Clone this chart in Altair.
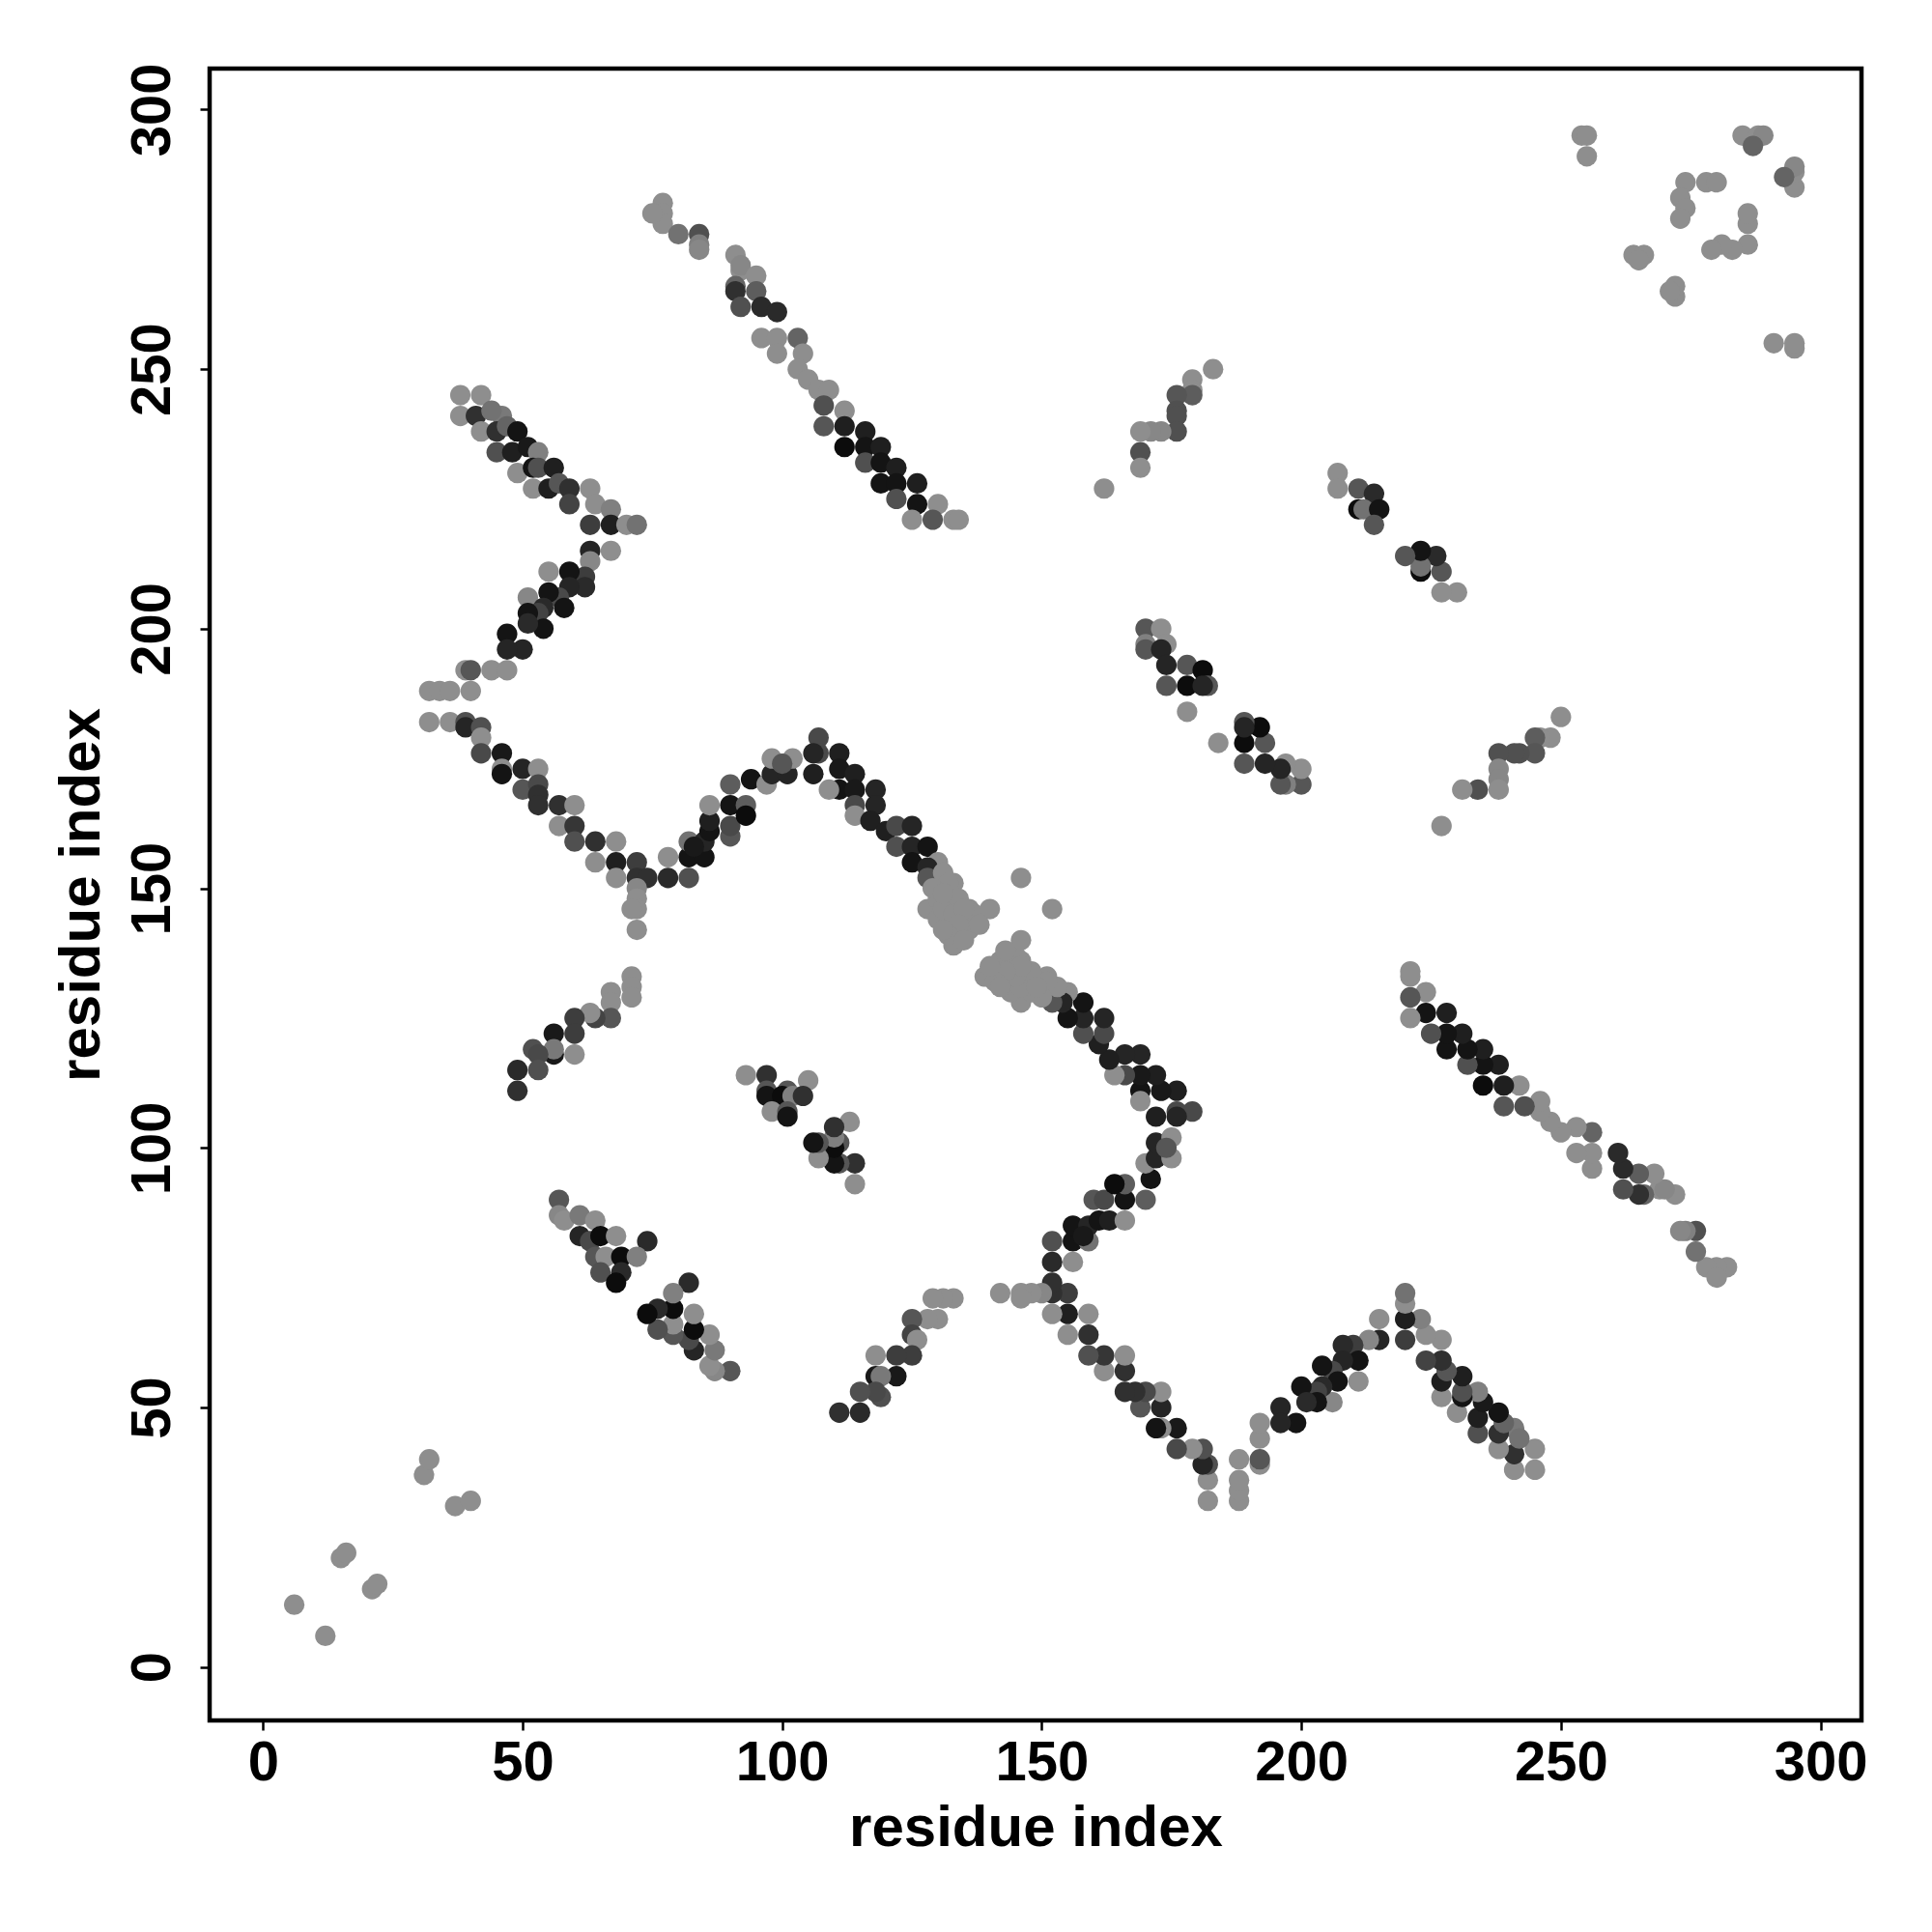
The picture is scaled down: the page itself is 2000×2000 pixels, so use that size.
import altair as alt
import pandas as pd

# Upper-triangle contacts (i < j) of a symmetric contact map; the lower half is the mirror image.
contact_i = [
    6, 15, 16, 31, 32,
    38, 42, 38, 41, 46, 44, 42, 45, 47, 49, 45, 48, 51, 53, 49, 52, 53, 56, 52, 55, 57, 59, 59, 63, 64, 67, 63, 67, 70, 72,
    63, 67, 63, 62, 59, 55, 62, 59, 57, 55, 51, 58, 54, 53, 51, 54, 51, 47, 50, 47, 39, 40, 44, 47, 32, 34, 36, 40,
    32, 36, 39, 39, 42, 42, 42, 46, 46, 46, 50, 53, 50, 53, 53, 53, 57, 60, 57, 60, 60, 64, 68, 64, 68, 72, 68, 72, 74, 78, 82,
    72, 72, 72, 71, 72, 78, 82, 82,
    85, 85, 83, 86, 86, 86, 90, 90, 90, 93, 93, 90, 94, 97, 98, 98, 101, 102, 100,
    107, 107, 106, 111, 111, 114, 111, 114, 109, 106, 114, 114, 118, 118, 117, 120, 122, 125, 122, 125, 125, 128, 130, 128, 128, 133, 131,
    128, 130, 132, 133, 130, 132, 135, 136, 137, 134, 133, 136, 131, 134, 140, 146,
    129, 131, 133, 135, 134, 132, 135, 138, 131,
    93, 97, 105, 97, 97, 101, 100, 102, 104, 98, 101, 101,
    57, 57, 58, 61, 64, 61, 63, 65, 68, 74, 64, 66, 69, 72, 65, 69, 68,
    71, 71, 71, 67, 67, 67, 64, 63, 60, 56, 60, 56, 56, 60, 52, 53, 53, 49, 49,
    77, 77, 77, 75, 80, 84, 84, 84, 91, 92, 92, 95, 91, 91, 92, 95, 96, 99, 96, 99, 103, 99, 104, 103, 105, 107, 109,
    108, 112, 108, 112, 116, 112, 116, 119, 116, 119, 122, 119, 122, 126, 122, 126, 130, 125, 129, 133, 134,
    183, 179, 179, 179, 176, 176, 176, 176, 173, 171, 169, 169, 169, 162,
    207, 207, 211, 214, 211, 212, 215, 214,
    170, 173, 170, 170, 174, 173, 174, 174, 178, 181, 178, 182, 181, 178,
    254, 255, 255, 274, 278, 280, 273, 274, 273, 264, 266, 265, 285, 288, 289, 287,
]
contact_j = [
    12, 21, 22, 37, 40,
    245, 245, 241, 241, 241, 242, 238, 238, 239, 238, 234, 234, 235, 234, 230, 231, 231, 231, 227, 227, 228, 227, 224, 227, 224, 223, 220, 220, 220, 220,
    215, 215, 213, 210, 211, 211, 208, 208, 206, 207, 206, 204, 204, 203, 203, 200, 201, 199, 196, 196, 192, 192, 192, 192, 188, 188, 188, 188,
    182, 182, 182, 181, 181, 179, 176, 176, 173, 172, 173, 173, 169, 170, 168, 166, 166, 166, 162, 162, 159, 159, 159, 155, 155, 155, 152, 152, 152, 152, 152,
    150, 148, 146, 146, 142, 156, 156, 159,
    156, 159, 158, 161, 163, 166, 166, 160, 162, 166, 164, 170, 171, 170, 172, 175, 172, 175, 174,
    179, 176, 176, 176, 173, 172, 169, 169, 169, 172, 166, 164, 169, 166, 163, 161, 162, 162, 158, 158, 155, 158, 155, 154, 152, 151, 153,
    146, 148, 151, 147, 144, 143, 144, 146, 145, 141, 139, 142, 146, 148, 146, 152,
    150, 149, 145, 146, 143, 141, 140, 143, 142,
    114, 114, 113, 111, 110, 111, 110, 110, 110, 107, 107, 106,
    90, 87, 86, 87, 86, 83, 82, 83, 83, 82, 79, 79, 79, 79, 76, 76, 74,
    133, 131, 129, 130, 128, 125, 125, 126, 125, 122, 122, 118, 119, 118, 119, 118, 115, 115, 111,
    282, 280, 278, 280, 276, 276, 274, 273, 272, 269, 270, 268, 266, 265, 262, 265, 262, 261, 256, 256, 256, 253, 253, 250, 248, 246, 246,
    243, 242, 239, 239, 238, 235, 235, 235, 232, 232, 231, 228, 228, 228, 225, 224, 224, 221, 221, 221, 221,
    250, 248, 246, 245, 245, 242, 241, 238, 238, 238, 238, 234, 231, 227,
    230, 227, 227, 226, 223, 223, 223, 220,
    200, 200, 197, 196, 197, 196, 193, 189, 193, 192, 189, 189, 189, 184,
    295, 295, 291, 286, 286, 286, 283, 281, 279, 272, 272, 271, 295, 295, 295, 293,
]
contact_strength = [
    0, 0, 0, 0, 0,
    0, 0, 0, 0.7, 0.15, 0.2, 0, 0.7, 0.3, 0.95, 0.45, 0.85, 0.9, 0.1, 0, 0.95, 0.45, 0.85, 0, 0.85, 0.4, 0.7, 0.55, 0, 0, 0.1, 0.6, 0.85, 0, 0.2,
    0.8, 0, 0.05, 0.6, 0.95, 0, 0.75, 0.8, 0.5, 0.95, 0.05, 0.95, 0.75, 0.55, 0.95, 0.95, 0.75, 0.95, 0.8, 0.8, 0, 0.4, 0, 0, 0, 0, 0, 0,
    0, 0, 0.45, 0.8, 0.45, 0, 0.5, 0.9, 0, 0.95, 0.8, 0, 0.4, 0.5, 0.7, 0.7, 0.7, 0, 0, 0.65, 0.45, 0.7, 0, 0, 0.85, 0.6, 0, 0.7, 0.7, 0.75, 0.45,
    0.05, 0, 0, 0, 0, 0, 0.95, 0.2,
    0.95, 0.8, 0.9, 0.95, 0.85, 0, 0.95, 0.4, 0.5, 0.35, 1.0, 0.35, 0.95, 0, 0.8, 0, 0.8, 0, 0.4,
    0.5, 0.5, 0.8, 0.85, 0.9, 0.85, 0.95, 0.9, 0, 0.85, 0.5, 0, 0.8, 0.8, 0.85, 0.85, 0.5, 0.8, 0.45, 0.8, 0.95, 0.95, 0, 0.8, 0.4, 0, 0,
    0, 0, 0, 0, 0, 0, 0, 0, 0, 0, 0, 0, 0, 0, 0, 0,
    0, 0, 0, 0, 0, 0, 0, 0, 0,
    0, 0.7, 0, 0.4, 0.95, 0.4, 1.0, 0.1, 0.7, 0, 0.4, 0.95,
    0.4, 0.05, 0, 0.15, 0, 0.8, 0.5, 1.0, 0, 0.75, 0.4, 0, 1.0, 0.1, 0.45, 0.75, 1.0,
    0, 0, 0, 0, 0, 0.4, 0.55, 0, 0.6, 0.9, 0.6, 0.9, 0.15, 0, 0.45, 0.5, 0.45, 0.75, 0.7,
    0, 0, 0, 0, 0.2, 0.45, 0.1, 0.05, 0, 0, 0.05, 0, 0.3, 0.7, 0.45, 0.35, 0.75, 0.75, 0, 0, 0.3, 0, 0, 0, 0, 0, 0,
    0.45, 0, 0.4, 0.85, 0.85, 1.0, 0.95, 0.85, 0.45, 0.95, 0.85, 0.95, 0.95, 0.85, 0.45, 0.95, 0, 0, 0.4, 0, 0,
    0, 0, 0, 0.35, 0.4, 0.45, 0.45, 0.45, 0.05, 0.05, 0, 0.45, 0, 0,
    0, 0, 0.4, 0.75, 1.0, 0.2, 0.95, 0.4,
    0.4, 0, 0.1, 0.4, 0, 0.8, 0.8, 0.4, 0.4, 1.0, 1.0, 0.4, 0.8, 0,
    0, 0, 0, 0, 0, 0, 0, 0, 0, 0, 0, 0, 0, 0, 0.05, 0.3,
]
axis_ticks = [0, 50, 100, 150, 200, 250, 300]

df = pd.DataFrame({
    "i": contact_i + contact_j,
    "j": contact_j + contact_i,
    "strength": contact_strength + contact_strength,
})

font = "Liberation Sans"
common = dict(
    values=axis_ticks, grid=False, domain=False,
    tickColor="black", tickWidth=2.5, tickSize=10,
    labelFont=font, labelFontWeight="bold", labelFontSize=58, labelColor="black",
    labelFlush=False, labelOverlap=False,
    titleFont=font, titleFontWeight="bold", titleFontSize=60, titleColor="black",
    title="residue index", titleBaseline="alphabetic", titleAlign="center",
)

x_axis = alt.Axis(labelBaseline="alphabetic", labelPadding=51, titleX=855, titleY=129, **common)
y_axis = alt.Axis(labelAngle=270, labelAlign="center", labelBaseline="alphabetic", labelPadding=32,
                  titleAngle=270, titleX=-115, titleY=855, **common)

dom = [-10.3, 307.9]
chart = alt.Chart(df).mark_circle(size=450, opacity=1).encode(
    x=alt.X("i:Q", scale=alt.Scale(domain=dom, nice=False, zero=False), axis=x_axis),
    y=alt.Y("j:Q", scale=alt.Scale(domain=dom, nice=False, zero=False), axis=y_axis),
    color=alt.Color("strength:Q", scale=alt.Scale(domain=[0, 1], range=["#8e8e8e", "#0c0c0c"]), legend=None),
).properties(
    width=1710, height=1710,
    padding={"left": 209, "top": 63, "right": 30, "bottom": 150},
    autosize=alt.AutoSizeParams(type="none"),
).configure_view(stroke="black", strokeWidth=4.5)

chart.save("out.html", embed_options={"renderer": "svg", "actions": False})
